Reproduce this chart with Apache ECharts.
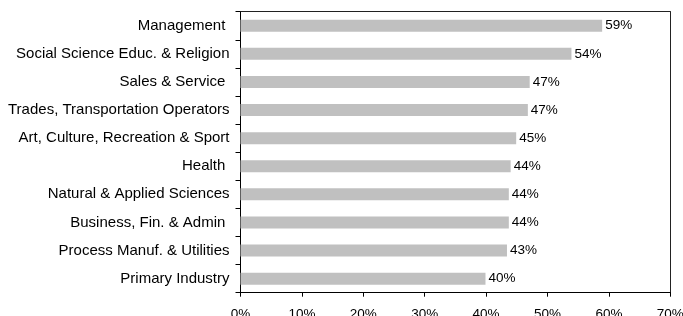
<!DOCTYPE html>
<html>
<head>
<meta charset="utf-8">
<script src="https://cdn.jsdelivr.net/npm/echarts@6/dist/echarts.min.js"></script>
<style>html,body{margin:0;padding:0;background:#fff;}#c{width:683px;height:316px;}</style>
</head>
<body>
<div id="c"></div>
<script>
const categories = [
  "Management ",
  "Social Science Educ. & Religion",
  "Sales & Service ",
  "Trades, Transportation Operators",
  "Art, Culture, Recreation & Sport",
  "Health ",
  "Natural & Applied Sciences",
  "Business, Fin. & Admin ",
  "Process Manuf. & Utilities",
  "Primary Industry"
];
const values = [58.9, 53.9, 47.1, 46.8, 44.9, 44.0, 43.7, 43.7, 43.4, 39.9];
const xTicks = { min: 0, max: 70, interval: 10 };

const chart = echarts.init(document.getElementById('c'), null, { renderer: 'canvas' });
const font = 'Liberation Sans, Arial, sans-serif';
chart.setOption({
  animation: false,
  grid: { left: 240.5, right: 12.7, top: 11.7, bottom: 23.3, outerBoundsMode: 'none', containLabel: false },
  xAxis: [{
    type: 'value', min: xTicks.min, max: xTicks.max, interval: xTicks.interval,
    axisLine: { show: true, onZero: false, lineStyle: { color: '#000', width: 1 } },
    axisTick: { show: true, length: 4, lineStyle: { color: '#000' } },
    splitLine: { show: false },
    axisLabel: { formatter: '{value}%', color: '#000', fontSize: 13.5, fontFamily: font, margin: 15 }
  }, {
    type: 'value', position: 'top', min: xTicks.min, max: xTicks.max, interval: xTicks.interval,
    axisLine: { show: true, onZero: false, lineStyle: { color: '#222', width: 1 } },
    axisTick: { show: false }, axisLabel: { show: false }, splitLine: { show: false }
  }],
  yAxis: [{
    type: 'category', data: categories, inverse: true,
    axisLine: { show: true, onZero: false, lineStyle: { color: '#000', width: 1 } },
    axisTick: { show: true, length: 5, lineStyle: { color: '#000' } },
    axisLabel: { color: '#000', fontSize: 15, fontFamily: font, margin: 11 }
  }, {
    type: 'category', data: categories, inverse: true, position: 'right',
    axisLine: { show: true, onZero: false, lineStyle: { color: '#222', width: 1 } },
    axisTick: { show: false }, axisLabel: { show: false }, splitLine: { show: false }
  }],
  series: [{
    type: 'bar', data: values, barWidth: 12, xAxisIndex: 0, yAxisIndex: 0,
    itemStyle: { color: '#c0c0c0' },
    label: { show: true, position: 'right', distance: 3, color: '#000', fontSize: 13.5, fontFamily: font,
      formatter: p => Math.round(p.value) + '%' }
  }]
});
</script>
</body>
</html>
